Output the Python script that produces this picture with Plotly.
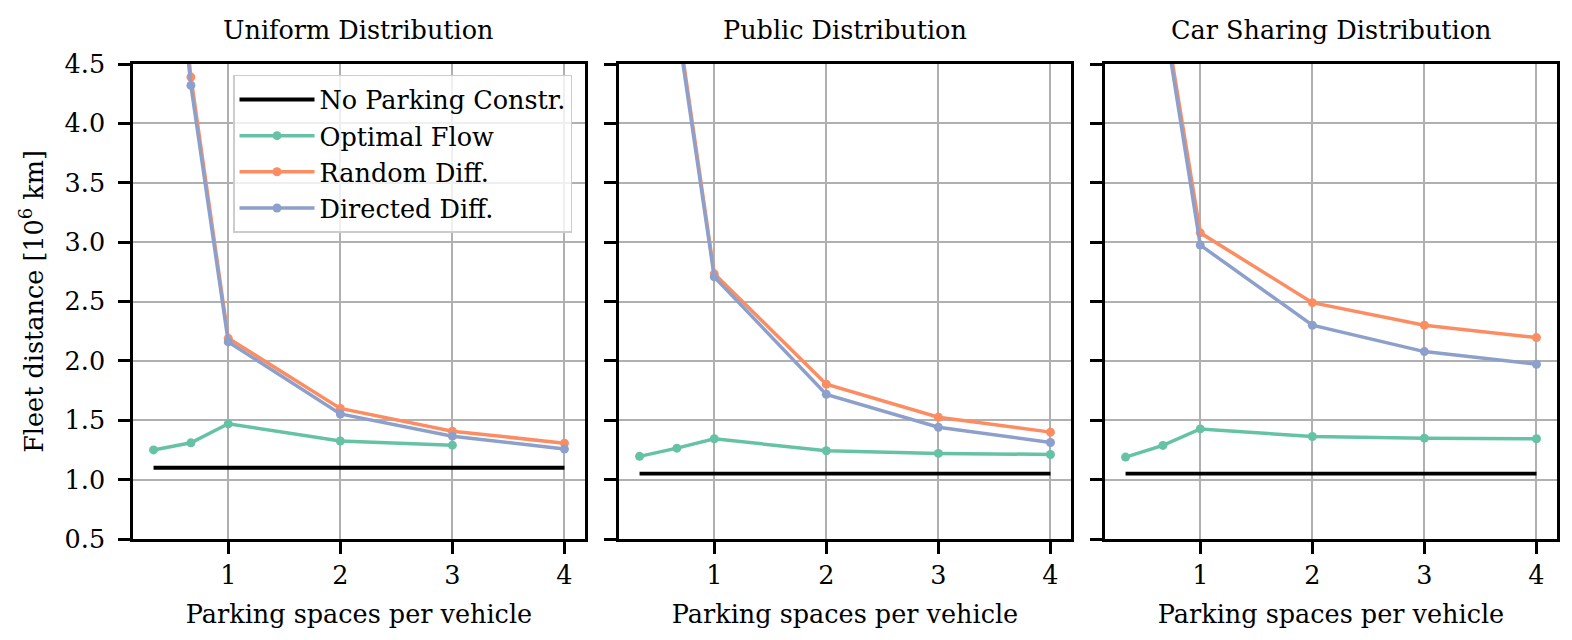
import plotly.graph_objects as go
from plotly.subplots import make_subplots

# parking spaces per vehicle
spaces = [1/3, 2/3, 1, 2, 3, 4]

panels = ["Uniform Distribution", "Public Distribution", "Car Sharing Distribution"]

# fleet distance without parking constraint, one value per panel
no_parking = [1.10, 1.05, 1.05]

# fleet distance [10^6 km], one list per panel
optimal_flow = [
    [1.25, 1.31, 1.47, 1.325, 1.29, None],
    [1.196, 1.265, 1.344, 1.243, 1.221, 1.212],
    [1.19, 1.288, 1.427, 1.363, 1.349, 1.344],
]
random_diff = [
    [7.4, 4.39, 2.19, 1.60, 1.408, 1.307],
    [9.5, 4.9, 2.733, 1.804, 1.525, 1.40],
    [9.0, 5.0, 3.078, 2.49, 2.30, 2.196],
]
directed_diff = [
    [7.3, 4.32, 2.16, 1.553, 1.366, 1.257],
    [9.4, 4.85, 2.707, 1.718, 1.441, 1.313],
    [8.9, 4.95, 2.975, 2.30, 2.078, 1.972],
]

x_ticks = [1, 2, 3, 4]
y_ticks = [0.5, 1.0, 1.5, 2.0, 2.5, 3.0, 3.5, 4.0, 4.5]

GREEN, ORANGE, BLUE = "#66c2a5", "#fc8d62", "#8da0cb"
FONT = "DejaVu Serif"
FS = 25.5

fig = make_subplots(rows=1, cols=3, shared_yaxes=True)

for i in range(3):
    col = i + 1
    first = i == 0
    fig.add_trace(go.Scatter(
        x=[spaces[0], spaces[-1]], y=[no_parking[i], no_parking[i]],
        mode="lines", line=dict(color="black", width=3.8),
        name="No Parking Constr.", showlegend=first, legendrank=1,
    ), row=1, col=col)
    fig.add_trace(go.Scatter(
        x=spaces, y=optimal_flow[i], mode="lines+markers",
        line=dict(color=GREEN, width=3.5), marker=dict(size=9),
        name="Optimal Flow", showlegend=first, legendrank=2,
    ), row=1, col=col)
    fig.add_trace(go.Scatter(
        x=spaces, y=random_diff[i], mode="lines+markers",
        line=dict(color=ORANGE, width=3.5), marker=dict(size=9),
        name="Random Diff.", showlegend=first, legendrank=3,
    ), row=1, col=col)
    fig.add_trace(go.Scatter(
        x=spaces, y=directed_diff[i], mode="lines+markers",
        line=dict(color=BLUE, width=3.5), marker=dict(size=9),
        name="Directed Diff.", showlegend=first, legendrank=4,
    ), row=1, col=col)

domains = [[0, 0.3174], [0.3413, 0.6587], [0.6826, 1.0]]

axis_style = dict(
    showline=True, linecolor="black", linewidth=2.5, mirror=True,
    ticks="outside", ticklen=12, tickwidth=2.5, tickcolor="black",
    showgrid=True, gridcolor="#b0b0b0", gridwidth=1.8,
    zeroline=False, tickfont=dict(size=FS, family=FONT, color="black"),
)

annotations = []
for i in range(3):
    sfx = "" if i == 0 else str(i + 1)
    fig.layout["xaxis" + sfx].update(
        domain=domains[i], range=[0.15, 4.1833], tickvals=x_ticks,
        title=dict(text="Parking spaces per vehicle", standoff=16,
                   font=dict(size=FS, family=FONT, color="black")),
        **axis_style,
    )
    fig.layout["yaxis" + sfx].update(
        range=[0.5, 4.5], tickvals=y_ticks, ticktext=[f"{v:.1f}" for v in y_ticks],
        ticklabelstandoff=8, **axis_style,
    )
    annotations.append(dict(
        text=panels[i], x=sum(domains[i]) / 2, y=1, xref="paper", yref="paper",
        xanchor="center", yanchor="bottom", yshift=17, showarrow=False,
        font=dict(size=FS, family=FONT, color="black"),
    ))

fig.layout.yaxis.title = dict(
    text="Fleet distance [10<sup>6</sup> km]", standoff=14,
    font=dict(size=FS, family=FONT, color="black"),
)

fig.update_layout(
    width=1572, height=640,
    margin=dict(l=125, r=23, t=56, b=109),
    plot_bgcolor="white", paper_bgcolor="white",
    font=dict(family=FONT, size=FS, color="black"),
    annotations=annotations,
    legend=dict(
        x=0.3083, y=0.977, xanchor="right", yanchor="top",
        bgcolor="rgba(255,255,255,0.8)", bordercolor="#cccccc", borderwidth=1.5,
        font=dict(size=FS, family=FONT, color="black"),
        tracegroupgap=0, itemwidth=75,
    ),
)

fig.write_html("out.html")
